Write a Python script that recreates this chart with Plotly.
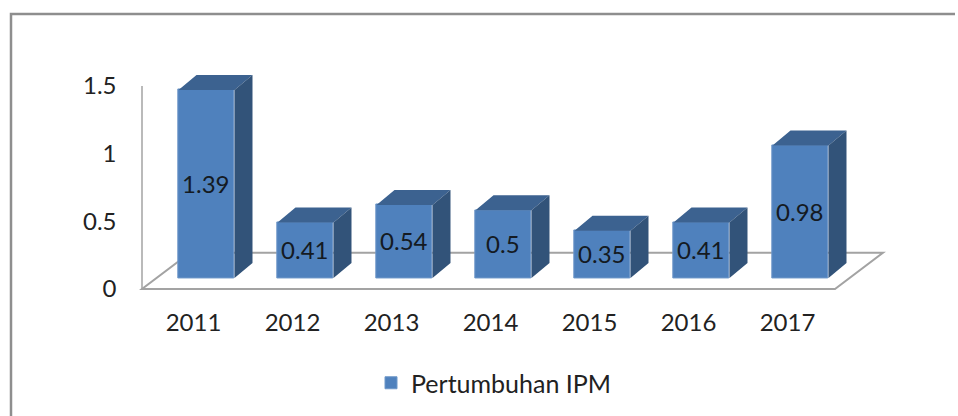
import plotly.graph_objects as go

years = ["2011", "2012", "2013", "2014", "2015", "2016", "2017"]
growth = [1.39, 0.41, 0.54, 0.5, 0.35, 0.41, 0.98]
y_ticks = [0, 0.5, 1, 1.5]
series_name = "Pertumbuhan IPM"

W, H = 958, 416
PH = 409                      # plot height left after the legend's bottom margin push
UX, UY = 99.0, 135.3          # pixels per category / per value unit
X0_PX, Y0_PX = 206.5, 289.0   # pixel of category 0 / value 0
XR = (-0.8, 7.2)
YR = (-0.05, 1.8)

bar_w = 56 / UX
depth_x, depth_y = 18 / UX, 15 / UY
base = 11 / UY
label_shift = -13 / UX
floor_l, floor_r = (142 - X0_PX) / UX, (835 - X0_PX) / UX
floor_dx, floor_dy = 48 / UX, 36.3 / UY

xs = list(range(len(years)))
tops_x, tops_y, side_x, side_y = [], [], [], []
for i, v in zip(xs, growth):
    l, r, t = i - bar_w / 2, i + bar_w / 2, base + v
    tops_x += [l, r, r + depth_x, l + depth_x, l, None]
    tops_y += [t, t, t + depth_y, t + depth_y, t, None]
    side_x += [r, r + depth_x, r + depth_x, r, r, None]
    side_y += [base, base + depth_y, t + depth_y, t, base, None]

fig = go.Figure()
fig.add_trace(go.Bar(
    x=xs, y=growth, base=base, width=bar_w, name=series_name,
    marker=dict(color="#4f81bd", line=dict(color="#6f98c9", width=1)),
    text=[str(v) for v in growth], textposition="inside",
    insidetextanchor="middle", textangle=0, constraintext="none",
    textfont=dict(family="Lato", size=24, color="#141a22"),
    showlegend=True, hoverinfo="skip",
))
for fx, fy, col in [(tops_x, tops_y, "#3c6290"), (side_x, side_y, "#325379")]:
    fig.add_trace(go.Scatter(x=fx, y=fy, mode="lines", fill="toself", fillcolor=col,
                             line=dict(width=0, color=col), showlegend=False, hoverinfo="skip"))

gray = "#a3a3a3"
floor = (f"M{floor_l},0 L{floor_r},0 L{floor_r + floor_dx},{floor_dy} "
         f"L{floor_l + floor_dx},{floor_dy} Z")
fig.update_layout(
    width=W, height=H, margin=dict(l=0, r=0, t=0, b=0), autosize=False,
    paper_bgcolor="white", plot_bgcolor="white",
    bargap=0, showlegend=True,
    legend=dict(orientation="h", x=371 / W, xanchor="left", y=1 - 383 / PH, yanchor="middle",
                font=dict(family="Lato", size=25, color="#222222"), bgcolor="rgba(0,0,0,0)"),
    xaxis=dict(range=XR, domain=[(X0_PX + XR[0] * UX) / W, (X0_PX + XR[1] * UX) / W],
               tickmode="array", tickvals=[i + label_shift for i in xs], ticktext=years,
               showgrid=False, zeroline=False, showline=False,
               ticks="outside", ticklen=5, tickcolor="rgba(0,0,0,0)",
               tickfont=dict(family="Lato", size=24, color="#222222")),
    yaxis=dict(range=YR, domain=[1 - (Y0_PX - YR[0] * UY) / PH, 1 - (Y0_PX - YR[1] * UY) / PH],
               tickmode="array", tickvals=y_ticks, ticktext=[str(v) for v in y_ticks],
               showgrid=False, zeroline=False, showline=False,
               ticks="outside", ticklen=5, tickcolor="rgba(0,0,0,0)",
               tickfont=dict(family="Lato", size=24, color="#222222")),
    shapes=[
        dict(type="path", xref="x", yref="y", path=floor, layer="below",
             line=dict(color=gray, width=2), fillcolor="white"),
        dict(type="line", xref="x", yref="y", x0=floor_l, x1=floor_l, y0=0, y1=1.5,
             layer="below", line=dict(color=gray, width=1.5)),
        dict(type="path", xref="paper", yref="paper", layer="below",
             path=f"M{11 / W},{(PH - H) / PH} L{11 / W},{1 - 14 / PH} L{955 / W},{1 - 14 / PH}",
             line=dict(color="#8e8e8e", width=2.5)),
    ],
)
fig.write_html("out.html", post_script="document.body.style.margin='0';",
               config={"displayModeBar": False})
